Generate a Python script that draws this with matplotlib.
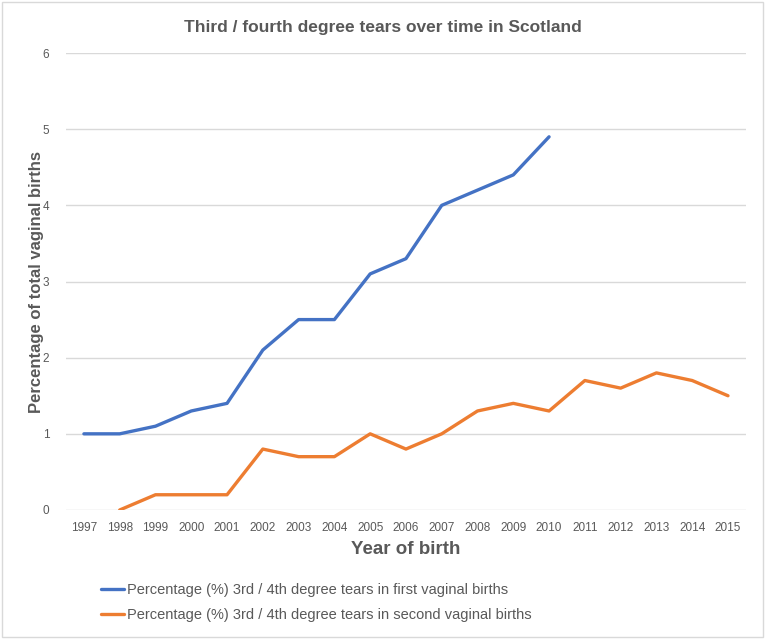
import matplotlib
matplotlib.use("Agg")
import matplotlib.pyplot as plt
from matplotlib.patches import Rectangle

plt.rcParams['font.family'] = ['Liberation Sans', 'DejaVu Sans']

years = [str(y) for y in range(1997, 2016)]
first_years = years[:14]
first_vals = [1.0, 1.0, 1.1, 1.3, 1.4, 2.1, 2.5, 2.5, 3.1, 3.3, 4.0, 4.2, 4.4, 4.9]
second_years = years[1:]
second_vals = [0.0, 0.2, 0.2, 0.2, 0.8, 0.7, 0.7, 1.0, 0.8, 1.0, 1.3, 1.4, 1.3,
               1.7, 1.6, 1.8, 1.7, 1.5]
yticks = [0, 1, 2, 3, 4, 5, 6]

GREY = '#595959'
fig = plt.figure(figsize=(7.65, 6.39), dpi=100)
ax = fig.add_axes([0.0863, 0.2019, 0.8887, 0.7151])

pos = {y: i for i, y in enumerate(years)}
ax.plot([pos[y] for y in first_years], first_vals, color='#4472C4', lw=2.4,
        solid_capstyle='round', label='Percentage (%) 3rd / 4th degree tears in first vaginal births')
ax.plot([pos[y] for y in second_years], second_vals, color='#ED7D31', lw=2.4,
        solid_capstyle='round', label='Percentage (%) 3rd / 4th degree tears in second vaginal births')

ax.set_xlim(-0.5, len(years) - 0.5)
ax.set_ylim(0, 6)
ax.set_xticks(range(len(years)))
ax.set_xticklabels(years)
ax.set_yticks(yticks)
ax.grid(axis='y', color='#D9D9D9', lw=1)
ax.set_axisbelow(True)
for s in ax.spines.values():
    s.set_visible(False)
ax.tick_params(length=0, colors=GREY, labelsize=8.5)
ax.tick_params(axis='y', pad=12)
ax.tick_params(axis='x', pad=9)

ax.set_xlabel('Year of birth', fontsize=13.5, fontweight='bold', color=GREY, labelpad=5)
ax.set_ylabel('Percentage of total vaginal births', fontsize=12, fontweight='bold', color=GREY)
ax.yaxis.set_label_coords(-0.033, 0.5)

fig.text(0.5, 0.957, 'Third / fourth degree tears over time in Scotland', ha='center', va='center',
         fontsize=12.5, fontweight='bold', color=GREY)

fig.legend(loc='center left', bbox_to_anchor=(0.115, 0.0565), frameon=False, fontsize=10.5,
           handlelength=1.55, handletextpad=0.2, labelspacing=0.75, labelcolor=GREY)

fig.patches.append(Rectangle((0.002, 0.003), 0.995, 0.994, transform=fig.transFigure,
                             fill=False, edgecolor='#D9D9D9', lw=1))

fig.savefig('out.png', dpi=100, facecolor='white')
